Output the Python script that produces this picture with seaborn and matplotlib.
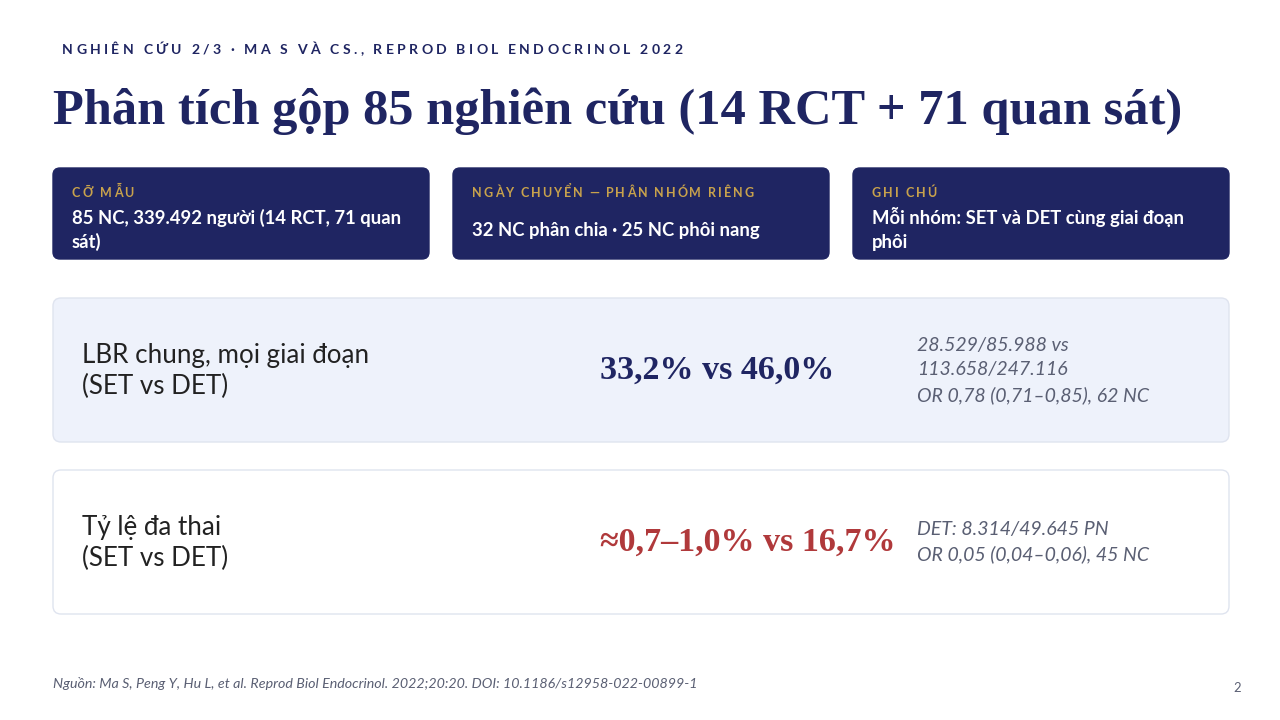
import matplotlib
matplotlib.use("Agg")
import matplotlib.pyplot as plt
from matplotlib.patches import FancyBboxPatch
import seaborn as sns

# nội dung slide
kicker = "NGHIÊN CỨU 2/3 · MA S VÀ CS., REPROD BIOL ENDOCRINOL 2022"
title = "Phân tích gộp 85 nghiên cứu (14 RCT + 71 quan sát)"

card_labels = ["CỠ MẪU", "NGÀY CHUYỂN — PHÂN NHÓM RIÊNG", "GHI CHÚ"]
card_values = [["85 NC, 339.492 người (14 RCT, 71 quan", "sát)"],
               ["32 NC phân chia · 25 NC phôi nang"],
               ["Mỗi nhóm: SET và DET cùng giai đoạn", "phôi"]]

row_labels = [["LBR chung, mọi giai đoạn", "(SET vs DET)"], ["Tỷ lệ đa thai", "(SET vs DET)"]]
row_values = ["33,2% vs 46,0%", "≈0,7–1,0% vs 16,7%"]
row_details = [["28.529/85.988 vs", "113.658/247.116", "OR 0,78 (0,71–0,85), 62 NC"],
               ["DET: 8.314/49.645 PN", "OR 0,05 (0,04–0,06), 45 NC"]]

source = "Nguồn: Ma S, Peng Y, Hu L, et al. Reprod Biol Endocrinol. 2022;20:20. DOI: 10.1186/s12958-022-00899-1"
page = "2"

NAVY = "#1f2562"
GOLD = "#c8a24c"
RED = "#b0393b"
GREY = "#5a5f73"

sns.set_theme(style="white")
SANS = ["Lato", "Open Sans", "Noto Sans", "DejaVu Sans"]
SERIF = ["Liberation Serif", "DejaVu Serif"]
plt.rcParams['font.family'] = SANS

fig = plt.figure(figsize=(12.8, 7.2), dpi=100)
ax = fig.add_axes([0, 0, 1, 1])
ax.set_xlim(0, 1280)
ax.set_ylim(720, 0)
ax.axis("off")
renderer = fig.canvas.get_renderer()


def px(p):
    return p * 0.72


def spaced(x, y, s, size, color, spacing, weight="bold"):
    # letter-spaced caps, char by char
    for ch in s:
        t = ax.text(x, y, ch, fontsize=px(size), color=color, weight=weight,
                    va="baseline", ha="left", family=SANS)
        w = t.get_window_extent(renderer).width
        if ch == " ":
            w = px(size) * 0.3
        x += w + spacing


def box(x0, y0, x1, y1, fc, ec, r=8, lw=1):
    ax.add_patch(FancyBboxPatch((x0 + r, y0 + r), x1 - x0 - 2 * r, y1 - y0 - 2 * r,
                                boxstyle=f"round,pad={r}", fc=fc, ec=ec, lw=lw))


# kicker + title
spaced(62, 54, kicker, 14, NAVY, 3.35)
ax.text(53, 124, title, fontsize=px(50.5), weight="bold", color=NAVY,
        family=SERIF, va="baseline")

# cards
card_x = [53, 453, 853]
for cx, lab, val in zip(card_x, card_labels, card_values):
    box(cx, 168, cx + 376, 259, NAVY, NAVY, r=7)
    spaced(cx + 19, 197, lab, 12.5, GOLD, 2.0, weight="bold")
    y0 = 224 if len(val) > 1 else 236
    for i, line in enumerate(val):
        ax.text(cx + 19, y0 + i * 24, line, fontsize=px(18.5), weight="bold",
                color="white", va="baseline")

# result rows
row_y = [298, 470]
row_fc = ["#eef2fb", "white"]
row_vc = [NAVY, RED]
for ry, fc, lab, val, vc, det in zip(row_y, row_fc, row_labels, row_values, row_vc, row_details):
    box(53, ry, 1229, ry + 144, fc, "#dfe4ef", r=8)
    for i, line in enumerate(lab):
        ax.text(82, ry + 57 + i * 31, line, fontsize=px(26), color="#222222",
                va="center")
    ax.text(600, ry + 72, val, fontsize=px(34), weight="bold", color=vc,
            family=SERIF, va="center")
    n = len(det)
    y0 = ry + 72 - (n - 1) * 12.5
    for i, d in enumerate(det):
        ax.text(917, y0 + i * 25, d, fontsize=px(19.5), style="italic", color=GREY,
                va="center")

ax.text(53, 683, source, fontsize=px(14.3), style="italic", color=GREY, va="center")
ax.text(1241, 688, page, fontsize=px(13), color=GREY, va="center", ha="right")

fig.savefig("out.png", dpi=100, facecolor="white")
